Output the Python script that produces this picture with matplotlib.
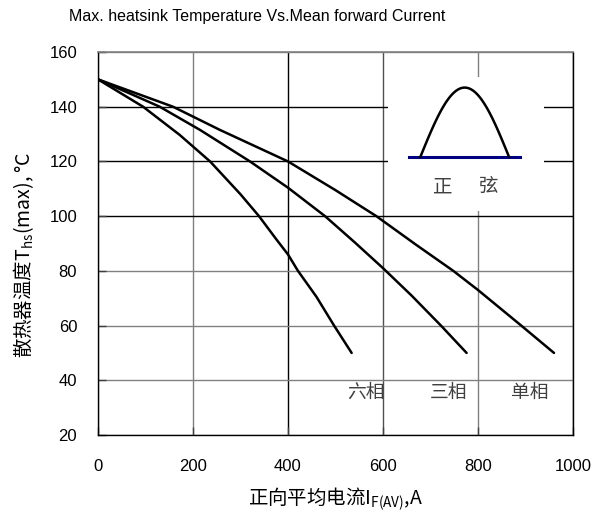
import numpy as np
import matplotlib
matplotlib.use('Agg')
import matplotlib.pyplot as plt
from matplotlib.patches import Rectangle

plt.rcParams['font.family'] = ['Liberation Sans', 'Noto Sans CJK SC']
plt.rcParams['mathtext.fontset'] = 'custom'
plt.rcParams['mathtext.rm'] = 'Noto Sans CJK SC'

# curve data (current A, heatsink temp C)
six_x = [0, 95, 172, 236, 300, 339, 376, 400, 421, 460, 497, 534]
six_y = [150, 140, 129.7, 120, 108, 100, 91.4, 86, 80, 70.5, 60, 50]
three_x = [0, 130, 215, 320, 400, 478, 540, 600, 660, 722, 776]
three_y = [150, 140, 131.5, 120, 110.4, 100, 90.5, 81, 71, 60, 50]
single_x = [0, 158, 257, 400, 500, 586, 670, 748, 800, 891, 960]
single_y = [150, 140, 131.5, 120, 109.5, 100, 89.5, 80, 73, 60, 50]

curve_names = ['六相', '三相', '单相']
name_x = [565, 737, 909]
name_y = 35.5

xticks = [0, 200, 400, 600, 800, 1000]
yticks = [20, 40, 60, 80, 100, 120, 140, 160]

cjk = ['Noto Sans CJK SC']

fig = plt.figure(figsize=(6.07, 5.17), dpi=100)
ax = fig.add_axes([0.1614, 0.1586, 0.7826, 0.7408])
ax.set_axisbelow(True)

for xs, ys in [(six_x, six_y), (three_x, three_y), (single_x, single_y)]:
    ax.plot(xs, ys, color='black', lw=1.8, solid_capstyle='round', zorder=3)

ax.set_xlim(0, 1000)
ax.set_ylim(20, 160)
ax.set_xticks(xticks)
ax.set_yticks(yticks)
ax.tick_params(direction='in', length=6, width=1, color='#404040',
               labelsize=12)
ax.tick_params(axis='y', pad=15)
ax.tick_params(axis='x', pad=17)

# grid, some lines black and some grey as in the original
ax.grid(True, lw=1)
x_grid_cols = ['#808080', '#808080', 'black', '#505050', '#808080', 'black']
y_grid_cols = ['#808080', '#808080', '#808080', '#808080', 'black', 'black', 'black', '#808080']
for gl, c in zip(ax.get_xgridlines(), x_grid_cols):
    gl.set_color(c)
for gl, c in zip(ax.get_ygridlines(), y_grid_cols):
    gl.set_color(c)

for side in ['left', 'bottom', 'right']:
    ax.spines[side].set_color('black')
    ax.spines[side].set_linewidth(1)
ax.spines['top'].set_color('#808080')
ax.spines['top'].set_linewidth(1.2)

# inset with sine symbol, white box hiding the grid
ax.add_patch(Rectangle((610, 101.7), 328, 49.2, facecolor='white',
                       edgecolor='none', zorder=1))
ax.plot([654, 889], [121.8, 121.8], color='#000080', lw=2.2, zorder=3)
t = np.linspace(0, np.pi, 60)
ax.plot(679 + (865 - 679) * t / np.pi, 121.8 + 25.2 * np.sin(t),
        color='black', lw=1.8, zorder=4)
ax.text(726, 110.8, '正', fontsize=14, color='#404040', ha='center', va='center',
        family=cjk)
ax.text(823, 110.8, '弦', fontsize=14, color='#404040', ha='center', va='center',
        family=cjk)

for name, nx in zip(curve_names, name_x):
    ax.text(nx, name_y, name, fontsize=13.5, color='#404040', ha='center',
            va='center', family=cjk, zorder=5)

ax.set_xlabel('正向平均电流I$_{\\mathregular{F(AV)}}$,A', fontsize=14,
              family=cjk)
ax.set_ylabel('散热器温度T$_{\\mathregular{hs}}$(max), °C', fontsize=14,
              family=cjk)
ax.xaxis.set_label_coords(0.5, -0.133)
ax.yaxis.set_label_coords(-0.13, 0.47)

fig.text(0.423, 0.969, 'Max. heatsink Temperature Vs.Mean forward Current',
         fontsize=11.5, ha='center', va='center',
         family=['Liberation Sans Narrow', 'Liberation Sans'])

fig.savefig('out.png', dpi=100)
